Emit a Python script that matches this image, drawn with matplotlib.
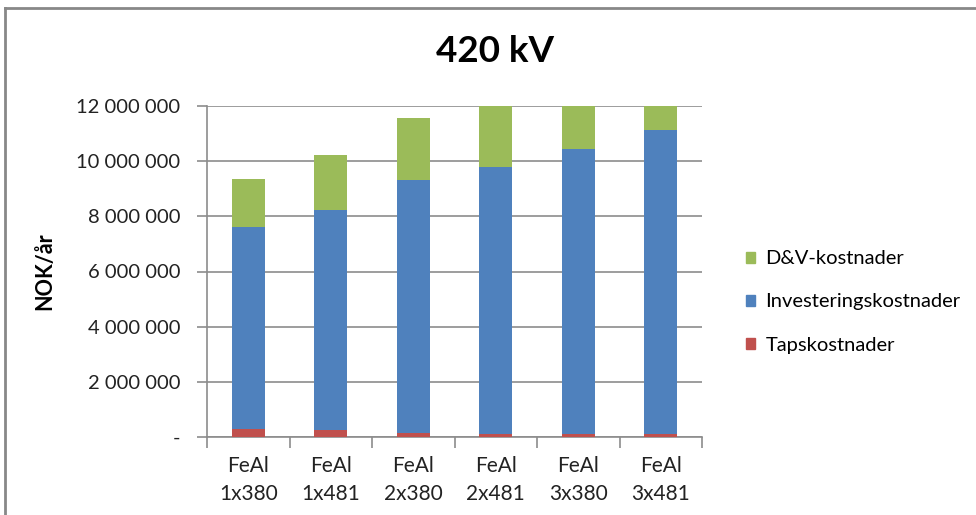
import matplotlib
matplotlib.use("Agg")
import matplotlib.pyplot as plt
from matplotlib.lines import Line2D
from matplotlib.patches import Patch
from matplotlib.ticker import FuncFormatter
import numpy as np

plt.rcParams['font.family'] = ['Lato', 'DejaVu Sans']

# data (NOK/år)
categories = ["FeAl\n1x380", "FeAl\n1x481", "FeAl\n2x380", "FeAl\n2x481", "FeAl\n3x380", "FeAl\n3x481"]
taps = [300000, 260000, 130000, 110000, 110000, 110000]
investering = [7300000, 7980000, 9200000, 9670000, 10340000, 11030000]
dv = [1760000, 1970000, 2250000, 2400000, 2600000, 2800000]

c_taps = "#C0504D"
c_inv = "#4F81BD"
c_dv = "#9BBB59"
grid_c = "#8C8C8C"

fig = plt.figure(figsize=(9.76, 5.15), dpi=100)
ax = fig.add_axes([207 / 976, 1 - 437 / 515, 495 / 976, 331 / 515])

x = np.arange(len(categories))
taps_a = np.array(taps)
inv_a = np.array(investering)
dv_a = np.array(dv)
w = 0.4
ax.bar(x, taps_a, w, color=c_taps, zorder=3)
ax.bar(x, inv_a, w, bottom=taps_a, color=c_inv, zorder=3)
ax.bar(x, dv_a, w, bottom=taps_a + inv_a, color=c_dv, zorder=3)

ax.set_xlim(-0.5, len(categories) - 0.5)
ax.set_ylim(0, 12000000)
ax.set_yticks(np.arange(0, 12000001, 2000000))


def fmt(v, pos):
    if v == 0:
        return "-"
    return "{:,.0f}".format(v).replace(",", " ")


ax.yaxis.set_major_formatter(FuncFormatter(fmt))
ax.yaxis.grid(True, color=grid_c, linewidth=1.2, zorder=0)
for s in ["top", "right"]:
    ax.spines[s].set_visible(False)
ax.spines["left"].set_color(grid_c)
ax.spines["bottom"].set_color(grid_c)
ax.spines["left"].set_linewidth(1.2)
ax.spines["bottom"].set_linewidth(1.2)
ax.tick_params(axis="y", length=7, color=grid_c, width=1.2, labelsize=14.5, pad=12, labelcolor="#222222")

# category labels between boundary ticks
ax.set_xticks(np.arange(-0.5, len(categories), 1.0))
ax.set_xticklabels([])
ax.tick_params(axis="x", length=8, color=grid_c, width=1.2)
ax.set_xticks(x, minor=True)
ax.set_xticklabels(categories, minor=True, fontsize=15, color="#222222", linespacing=1.45)
ax.tick_params(axis="x", which="minor", length=0, pad=14)

ax.set_ylabel("NOK/år", fontsize=15.5, fontweight="bold")
ax.yaxis.set_label_coords(-152 / 495, 0.5)

fig.text(495 / 976, 1 - 52 / 515, "420 kV", fontsize=26.5, fontweight="bold", ha="center", va="center")

handles = [Patch(color=c_dv), Patch(color=c_inv), Patch(color=c_taps)]
labels = ["D&V-kostnader", "Investeringskostnader", "Tapskostnader"]
fig.legend(handles, labels, loc="center left", bbox_to_anchor=(728 / 976, 1 - 302 / 515),
           frameon=False, fontsize=14.5, handlelength=0.45, handleheight=0.45,
           handletextpad=0.5, labelspacing=1.3)

# chart area border (cut off on right and bottom)
fig.add_artist(Line2D([5 / 976, 5 / 976], [0, 1 - 8 / 515], color="#888888", linewidth=2))
fig.add_artist(Line2D([5 / 976, 1], [1 - 8 / 515, 1 - 8 / 515], color="#888888", linewidth=2))

fig.savefig("out.png", dpi=100)
